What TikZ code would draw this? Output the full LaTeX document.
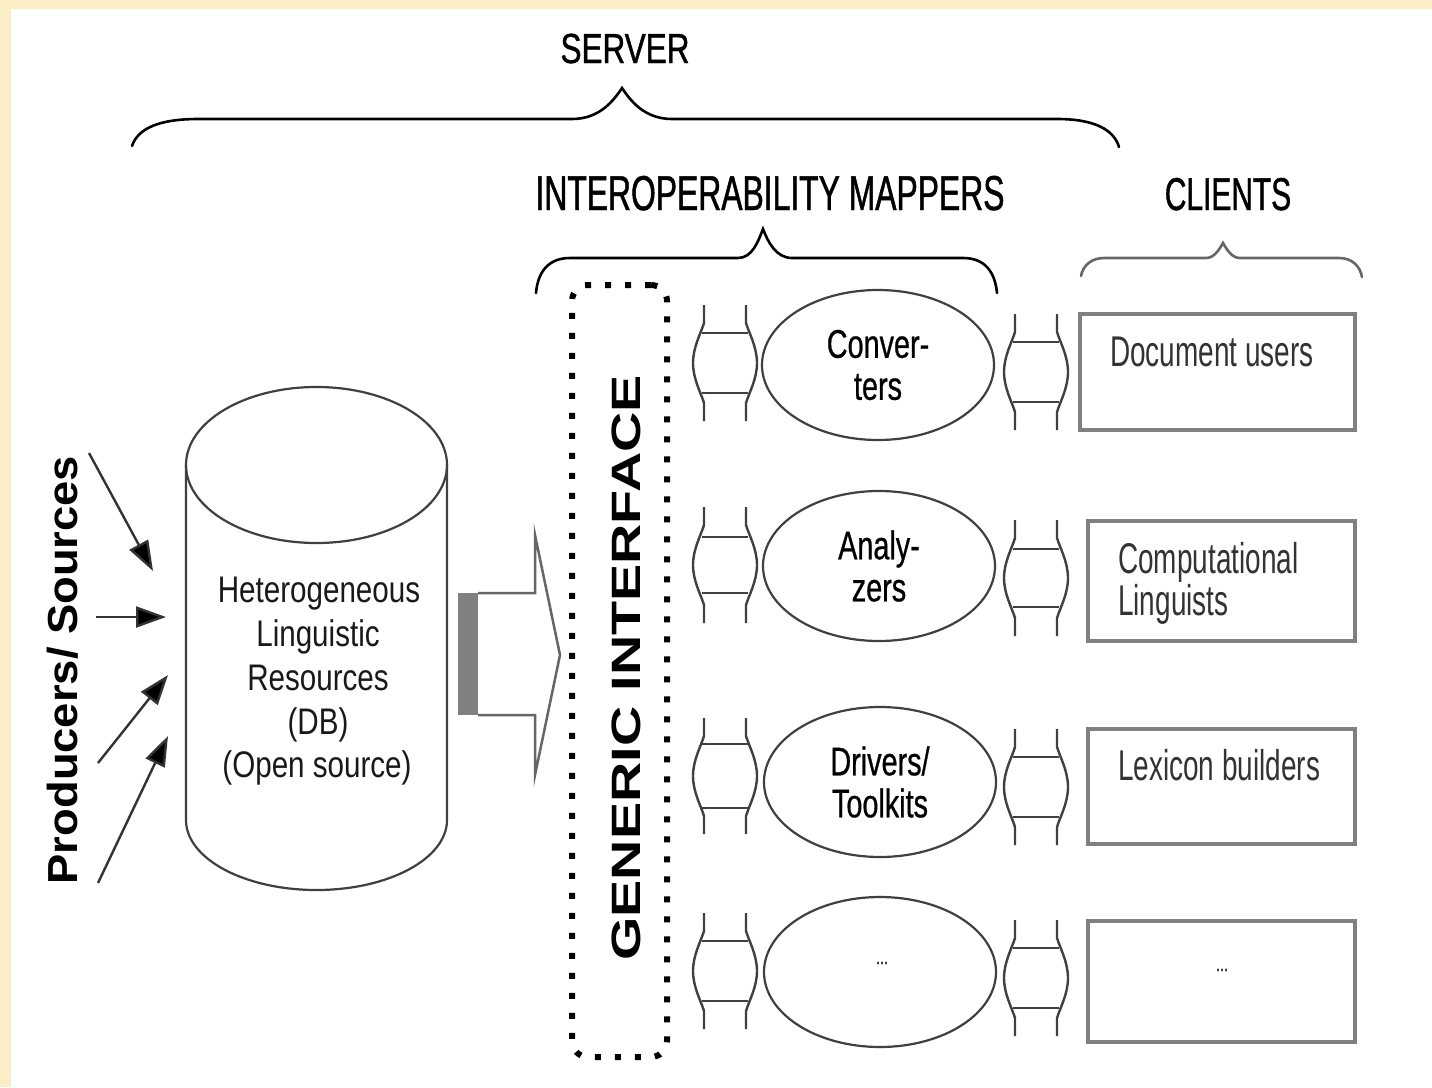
\documentclass[tikz,border=0pt]{standalone}
\usepackage{fontspec}
\setmainfont{Liberation Sans}
\newfontfamily\fsrv[FakeStretch=0.75,FakeBold=1]{Liberation Sans}
\newfontfamily\fhead[FakeStretch=0.65,FakeBold=1]{Liberation Sans}
\newfontfamily\fcli[FakeStretch=0.65]{Liberation Sans}
\newfontfamily\fcyl[FakeStretch=0.8]{Liberation Sans}
\newfontfamily\fell[FakeStretch=0.72,FakeBold=0.6]{Liberation Sans}
\newfontfamily\fgen[FakeStretch=1.36]{Liberation Sans}
\newfontfamily\fprod[FakeStretch=1.08]{Liberation Sans}
\usetikzlibrary{arrows.meta,shapes.geometric}
\definecolor{bgyel}{RGB}{251,238,196}
\newcommand{\mconn}[3]{%
  \draw[connline] ({#1-21},{#2-58}) -- ({#1-21},{#2-40})
    .. controls ({#1-24},{#2-30}) and ({#1-32},{#2-16}) .. ({#1-32},{#2})
    .. controls ({#1-32},{#2+16}) and ({#1-24},{#2+30}) .. ({#1-21},{#2+40})
    -- ({#1-21},{#2+58});
  \draw[connline] ({#1+21},{#2-58}) -- ({#1+21},{#2-40})
    .. controls ({#1+24},{#2-30}) and ({#1+32},{#2-16}) .. ({#1+32},{#2})
    .. controls ({#1+32},{#2+16}) and ({#1+24},{#2+30}) .. ({#1+21},{#2+40})
    -- ({#1+21},{#2+58});
  \draw[connline] ({#1-23},{#2-#3}) -- ({#1+23},{#2-#3});
  \draw[connline] ({#1-23},{#2+#3}) -- ({#1+23},{#2+#3});
}
\begin{document}
\begin{tikzpicture}[x=1pt,y=-1pt,
  brace/.style={line width=2.6pt, draw=black, line cap=round},
  cyl/.style={line width=2.2pt, draw=black!75},
  arr/.style={line width=2.4pt, draw=black!80, -{Triangle[length=30pt,width=21pt,fill=black]}},
  connline/.style={line width=2.4pt, draw=black!75},
  ell/.style={ellipse, draw=black!75, line width=2.2pt, minimum width=232pt, minimum height=150pt, inner sep=0pt, align=center, font=\fell\fontsize{40}{42}\selectfont},
  cbox/.style={rectangle, draw=black!50, line width=3.5pt, inner sep=0pt},
  btxt/.style={anchor=base west, inner sep=0pt, font=\fcli\fontsize{43}{43}\selectfont, text=black!80},
  ctxt/.style={anchor=base, inner sep=0pt, font=\fcyl\fontsize{37}{37}\selectfont, text=black!90},
]
\useasboundingbox (0,0) rectangle (1432,1087);
\fill[bgyel] (0,0) rectangle (1432,1087);
\fill[white] (11,9) rectangle (1432,1087);

% headings
\node[anchor=base, inner sep=0pt, font=\fsrv\fontsize{42}{42}\selectfont] (srv) at (625,63) {SERVER};
\node[anchor=base, inner sep=0pt, font=\fhead\fontsize{49}{49}\selectfont] (iom) at (770,210) {INTEROPERABILITY MAPPERS};
\node[anchor=base, inner sep=0pt, font=\fhead\fontsize{46}{46}\selectfont] (cli) at (1228,210) {CLIENTS};

% braces
\draw[brace] (132,146) .. controls (138,128) and (160,119) .. (198,119) -- (572,119)
  .. controls (600,119) and (614,100) .. (622,88)
  .. controls (630,100) and (644,119) .. (672,119) -- (1057,119)
  .. controls (1095,119) and (1114,130) .. (1119,147);
\draw[brace] (536,293) .. controls (538,270) and (550,258) .. (570,258) -- (738,258)
  .. controls (752,258) and (758,242) .. (763,229)
  .. controls (768,242) and (776,258) .. (792,258) -- (963,258)
  .. controls (985,258) and (995,272) .. (997,293);
\draw[brace, draw=black!60] (1081,276) .. controls (1083,265) and (1092,258) .. (1104,258) -- (1206,258)
  .. controls (1214,258) and (1219,250) .. (1223,243)
  .. controls (1227,250) and (1232,258) .. (1240,258) -- (1339,258)
  .. controls (1352,258) and (1360,266) .. (1362,277);

% producers
\node[rotate=90, anchor=base, inner sep=0pt, font=\fprod\bfseries\fontsize{42}{42}\selectfont] (ps) at (77,670) {Producers/ Sources};
\coordinate (a1s) at (89,453);  \coordinate (a1e) at (153,571);
\coordinate (a2s) at (96,617);  \coordinate (a2e) at (166,617);
\coordinate (a3s) at (98,763);  \coordinate (a3e) at (168,675);
\coordinate (a4s) at (98,883);  \coordinate (a4e) at (168,736);
\draw[arr] (a1s) -- (a1e);
\draw[arr] (a2s) -- (a2e);
\draw[arr] (a3s) -- (a3e);
\draw[arr] (a4s) -- (a4e);

% cylinder
\draw[cyl] (316.5,465) ellipse[x radius=130.5, y radius=78];
\draw[cyl] (186,465) -- (186,820) arc[start angle=180, end angle=0, x radius=130.5, y radius=70] -- (447,465);
\node[ctxt] (c1) at (319,602) {Heterogeneous};
\node[ctxt] (c2) at (318,646) {Linguistic};
\node[ctxt] (c3) at (318,690) {Resources};
\node[ctxt] (c4) at (318,734) {(DB)};
\node[ctxt] (c5) at (317,777) {(Open source)};

% block arrow
\fill[black!50] (458,593) rectangle (478,715);
\draw[line width=2.5pt, draw=black!60, line join=miter] (478,593) -- (535,593) -- (535,535) -- (560,655) -- (535,775) -- (535,715) -- (478,715);

% generic interface
\node[draw=black, line width=6pt, dash pattern=on 6pt off 14pt, rounded corners=16pt, minimum width=95pt, minimum height=772pt, inner sep=0pt] (gibox) at (619.5,671) {};
\node[rotate=90, anchor=base, inner sep=0pt, font=\fgen\bfseries\fontsize{41}{41}\selectfont] (gi) at (640,668) {GENERIC INTERFACE};

% connectors left
\mconn{725}{363}{30}
\mconn{725}{565}{28}
\mconn{725}{776}{32}
\mconn{725}{971}{30}
% connectors right
\mconn{1036}{372}{30}
\mconn{1036}{578}{29}
\mconn{1036}{787}{30}
\mconn{1036}{978}{30}

% ellipses
\node[ell] (conv) at (878,365) {Conver-\\ters};
\node[ell] (anal) at (879,566) {Analy-\\zers};
\node[ell] (driv) at (880,782) {Drivers/\\Toolkits};
\node[ell] (etce) at (880,972) {};
\node[inner sep=0pt, font=\fell\fontsize{20}{20}\selectfont] (etct) at (882,963) {...};

% client boxes
\node[cbox, minimum width=275pt, minimum height=116pt] (b1) at (1217.5,372) {};
\node[cbox, minimum width=267pt, minimum height=120pt] (b2) at (1221.5,581) {};
\node[cbox, minimum width=267pt, minimum height=115pt] (b3) at (1221.5,786.5) {};
\node[cbox, minimum width=267pt, minimum height=121pt] (b4) at (1221.5,981.5) {};
\node[btxt] (t1) at (1110,366) {Document users};
\node[btxt] (t2a) at (1118,573) {Computational};
\node[btxt] (t2b) at (1118,615) {Linguists};
\node[btxt] (t3) at (1118,780) {Lexicon builders};
\node[inner sep=0pt, font=\fell\fontsize{20}{20}\selectfont] (t4) at (1222,970) {...};
\end{tikzpicture}
\end{document}
